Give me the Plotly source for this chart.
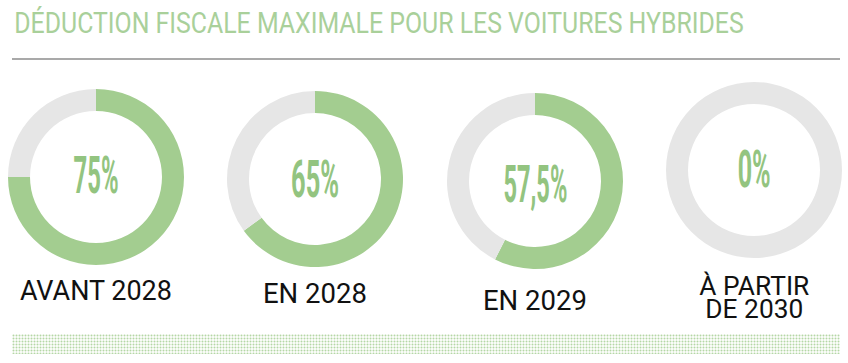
import json
import plotly.graph_objects as go

# ---- data ----
categories = ["AVANT 2028", "EN 2028", "EN 2029", "À PARTIR<br>DE 2030"]
deduction_pct = [75, 65, 57.5, 0]
value_labels = ["75%", "65%", "57,5%", "0%"]
title_text = "DÉDUCTION FISCALE MAXIMALE POUR LES VOITURES HYBRIDES"

# ---- layout constants (pixels) ----
W, H = 848, 363
centers = [(96, 177), (315, 179), (535, 181), (754, 170)]
R = 88
pct_y = [178, 182, 187, 172]
pct_w = [45, 48, 64, 33]
label_y = [292, 295, 302, 299.5]
label_w = [152, 104, 104, 110]
label_line_gap = 23
GREEN = "#a3cd90"
GRAY = "#e6e6e6"
TEXT_GREEN = "#93c480"
PCT_SIZE = 52
LBL_SIZE = 28
LBL2_SIZE = 26
TITLE_SIZE = 29


def py(y_px, size):
    # target cap-centre pixel row -> paper y for a middle-anchored annotation
    return (H - (y_px - 0.05 * size)) / H


fig = go.Figure()

for i, v in enumerate(deduction_pct):
    cx, cy = centers[i]
    fig.add_trace(go.Pie(
        values=[v, 100 - v],
        labels=["Déduction", "Reste"],
        marker=dict(colors=[GREEN, GRAY], line=dict(width=0)),
        hole=0.75,
        sort=False,
        direction="clockwise",
        rotation=0,
        textinfo="none",
        hoverinfo="skip",
        showlegend=False,
        domain=dict(x=[(cx - R) / W, (cx + R) / W],
                    y=[(H - cy - R) / H, (H - cy + R) / H]),
    ))

annotations = []
targets = {}
for i, (cat, lab) in enumerate(zip(categories, value_labels)):
    cx, cy = centers[i]
    targets[len(annotations)] = [pct_w[i], "c", 0]
    annotations.append(dict(
        x=cx / W, y=py(pct_y[i], PCT_SIZE), xref="paper", yref="paper",
        text=lab, showarrow=False, xanchor="center", yanchor="middle",
        font=dict(family="Roboto, Liberation Sans, sans-serif", size=PCT_SIZE,
                  color=TEXT_GREEN, weight="bold"),
    ))
    multi = "<br>" in cat
    sz = LBL2_SIZE if multi else LBL_SIZE
    targets[len(annotations)] = [label_w[i], "c", label_line_gap if multi else 0]
    annotations.append(dict(
        x=cx / W, y=py(label_y[i], sz), xref="paper", yref="paper",
        text=cat, showarrow=False, xanchor="center", yanchor="middle",
        font=dict(family="Roboto, Liberation Sans, sans-serif", size=sz, color="#111111"),
    ))

# title
targets[len(annotations)] = [730, "l", 0]
annotations.append(dict(
    x=12 / W, y=py(24, TITLE_SIZE), xref="paper", yref="paper",
    text=title_text, showarrow=False, xanchor="left", yanchor="middle",
    font=dict(family="Roboto, Liberation Sans, sans-serif", size=TITLE_SIZE, color="#a9d09a"),
))

# dotted band as a pattern-filled bar
fig.add_trace(go.Bar(
    x=[0], y=[1], width=1, xaxis="x2", yaxis="y2",
    marker=dict(color="white", line=dict(width=0),
                pattern=dict(shape=".", size=3, solidity=0.35,
                             fgcolor="#b5d7a5", bgcolor="white", fillmode="replace")),
    hoverinfo="skip", showlegend=False,
))

fig.update_layout(
    width=W, height=H,
    margin=dict(l=0, r=0, t=0, b=0),
    paper_bgcolor="white", plot_bgcolor="white",
    annotations=annotations,
    xaxis2=dict(domain=[12 / W, 840 / W], range=[-0.5, 0.5], visible=False, fixedrange=True),
    yaxis2=dict(domain=[(H - 354) / H, (H - 334) / H], range=[0, 1], visible=False,
                fixedrange=True, anchor="x2"),
    xaxis=dict(visible=False), yaxis=dict(visible=False),
    shapes=[dict(type="line", xref="paper", yref="paper",
                 x0=12 / W, x1=840 / W, y0=(H - 59) / H, y1=(H - 59) / H,
                 line=dict(color="#8c8c8c", width=1.5))],
)

# remove the page margin and condense annotation text horizontally
# (the original uses a condensed typeface with tight leading)
post_js = """
document.body.style.margin = '0';
document.body.style.overflow = 'hidden';
var gd = document.getElementById('{plot_id}');
var targets = %s;
gd.querySelectorAll('g.annotation').forEach(function(g){
  var idx = g.getAttribute('data-index');
  if (!(idx in targets)) return;
  var cfg = targets[idx];
  var t = g.querySelector('text.annotation-text');
  if (!t) return;
  var bb0 = t.getBBox();
  var ty = 0;
  if (cfg[2]) {
    var lines = t.querySelectorAll('tspan.line');
    for (var k = 1; k < lines.length; k++) lines[k].setAttribute('dy', (k * cfg[2]) + 'px');
    var bb1 = t.getBBox();
    ty = (bb0.y + bb0.height / 2) - (bb1.y + bb1.height / 2);
  }
  var bb = t.getBBox();
  var s = cfg[0] / bb.width;
  var ax = cfg[1] === 'l' ? bb.x : bb.x + bb.width / 2;
  t.setAttribute('transform', 'translate(' + ax + ',' + ty + ') scale(' + s + ',1) translate(' + (-ax) + ',0)');
});
""" % json.dumps({str(k): v for k, v in targets.items()})

fig.write_html("out.html", post_script=post_js, config={"displayModeBar": False})
